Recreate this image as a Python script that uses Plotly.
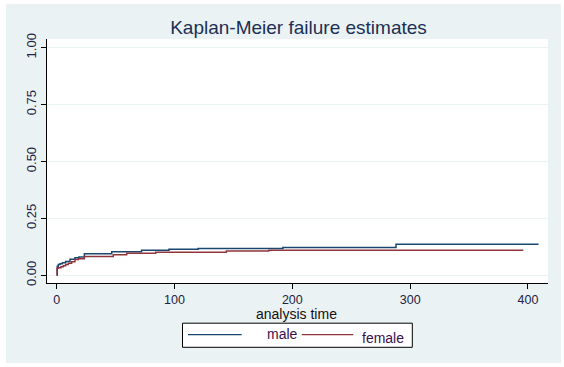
import plotly.graph_objects as go

# ---- data ----
male_time = [0, 0.5, 1.4, 2.8, 4.8, 7.6, 11.3, 15.5, 18.9, 23.5, 46.7, 72, 95.3, 120, 192, 288, 409]
male_fail = [0, 0.040, 0.047, 0.051, 0.055, 0.061, 0.070, 0.077, 0.080, 0.095, 0.104, 0.110, 0.114,
             0.118, 0.122, 0.136, 0.136]
female_time = [0, 0.3, 1.4, 3.6, 5.6, 7.6, 9.9, 12.7, 15.5, 18.4, 23.5, 48, 59.4, 84, 144, 180, 396]
female_fail = [0, 0.031, 0.033, 0.038, 0.042, 0.047, 0.053, 0.060, 0.069, 0.073, 0.083, 0.090,
               0.097, 0.101, 0.107, 0.110, 0.110]
series_names = ["male", "female"]
series_colors = ["#1A476F", "#90353B"]
y_ticks = [0, 0.25, 0.5, 0.75, 1.0]
y_tick_labels = ["0.00", "0.25", "0.50", "0.75", "1.00"]
x_ticks = [0, 100, 200, 300, 400]
title_text = "Kaplan-Meier failure estimates"
x_title = "analysis time"

FONT = "Arial, 'Liberation Sans', sans-serif"
TXT = "#1E2244"
BG = "#EAF2F3"

fig = go.Figure()
for t, f, name, col in [(male_time, male_fail, series_names[0], series_colors[0]),
                        (female_time, female_fail, series_names[1], series_colors[1])]:
    fig.add_trace(go.Scatter(x=t, y=f, mode="lines", name=name, line_shape="hv",
                             line=dict(color=col, width=1.5), showlegend=False))

W, H = 564, 367
L, R, T, B = 47, 16, 39, 84
pw, ph = W - L - R, H - T - B


def px(x):
    return (x - L) / pw


def py(y):
    return (H - B - y) / ph


shapes = [
    # light outer background panel
    dict(type="rect", xref="paper", yref="paper", x0=px(6), x1=px(561), y0=py(363), y1=py(4),
         fillcolor=BG, line=dict(width=0), layer="below"),
    # plot region white
    dict(type="rect", xref="paper", yref="paper", x0=0, x1=1, y0=0, y1=1,
         fillcolor="white", line=dict(width=0), layer="below"),
    # legend box
    dict(type="rect", xref="paper", yref="paper", x0=px(182.5), x1=px(412.3), y0=py(347.3), y1=py(323.2),
         fillcolor="white", line=dict(color="black", width=1)),
    dict(type="line", xref="paper", yref="paper", x0=px(188), x1=px(241.7), y0=py(334.7), y1=py(334.7),
         line=dict(color=series_colors[0], width=1.2)),
    dict(type="line", xref="paper", yref="paper", x0=px(301.7), x1=px(353.3), y0=py(334.7), y1=py(334.7),
         line=dict(color=series_colors[1], width=1.2)),
]

annotations = [
    dict(text=series_names[0], xref="paper", yref="paper", x=px(282), y=py(333.5), showarrow=False,
         xanchor="center", yanchor="middle", font=dict(family=FONT, size=14, color="#3A1050")),
    dict(text=series_names[1], xref="paper", yref="paper", x=px(382.5), y=py(338), showarrow=False,
         xanchor="center", yanchor="middle", font=dict(family=FONT, size=14, color="#3A1050")),
    dict(text=x_title, xref="paper", yref="paper", x=px(296.5), y=py(313.5), showarrow=False,
         xanchor="center", yanchor="middle", font=dict(family=FONT, size=14, color="#111111")),
]

fig.update_layout(
    width=W, height=H,
    margin=dict(l=L, r=R, t=T, b=B),
    paper_bgcolor="white", plot_bgcolor="white",
    title=dict(text=title_text, x=px(298.5), xref="paper", xanchor="center",
               y=1 - 27 / H, yref="container", yanchor="middle",
               font=dict(family=FONT, size=19, color="#1C2F55")),
    shapes=shapes, annotations=annotations,
    xaxis=dict(range=[-8.23, 417.0], tickvals=x_ticks, showgrid=False, zeroline=False,
               showline=True, linecolor="black", linewidth=1, ticks="outside", ticklen=5,
               tickcolor="black", tickfont=dict(family=FONT, size=12.5, color=TXT)),
    yaxis=dict(range=[-0.0338, 1.0382], tickvals=y_ticks, ticktext=y_tick_labels, tickangle=-90,
               showgrid=True, gridcolor=BG, gridwidth=1, zeroline=False,
               showline=True, linecolor="black", linewidth=1, ticks="outside", ticklen=5,
               tickcolor="black", tickfont=dict(family=FONT, size=13, color=TXT)),
)

fig.write_html("out.html", config={"displayModeBar": False},
               post_script="document.body.style.margin='0';document.body.style.overflow='hidden';")
